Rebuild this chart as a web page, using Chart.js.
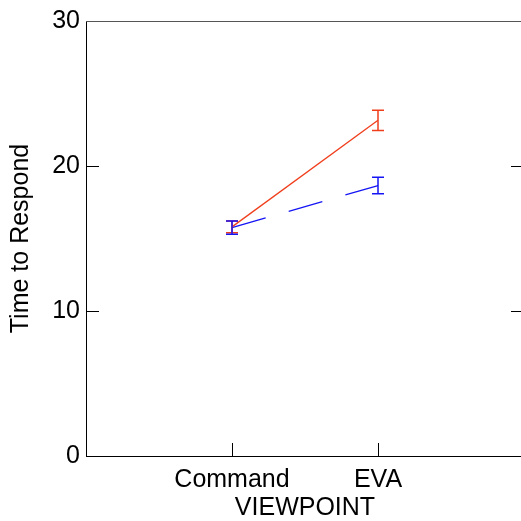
<!DOCTYPE html>
<html>
<head>
<meta charset="utf-8">
<script src="https://cdn.jsdelivr.net/npm/chart.js@4/dist/chart.umd.min.js"></script>
<style>
  html, body { margin: 0; padding: 0; overflow: hidden; background: #fff; }
  canvas { display: block; }
</style>
</head>
<body>
<canvas id="chart" width="526" height="521"></canvas>
<script>
// data
const categories = ['Command', 'EVA'];
const redMeans = [15.8, 23.15];
const redErr = [0.4, 0.7];
const blueMeans = [15.75, 18.65];
const blueErr = [0.45, 0.57];
const yTicks = [0, 10, 20, 30];

const RED = 'rgb(240, 62, 28)';
const BLUE = 'rgb(20, 20, 245)';
const FONT = "'Liberation Sans', Arial, Helvetica, sans-serif";

// error bars drawn with the chart's scales
const errorBars = {
    id: 'errorBars',
    afterDatasetsDraw(chart) {
        const ctx = chart.ctx;
        const xs = chart.scales.x, ys = chart.scales.y;
        const sets = [
            { means: redMeans, errs: redErr, color: RED },
            { means: blueMeans, errs: blueErr, color: BLUE }
        ];
        ctx.save();
        ctx.lineWidth = 1.5;
        sets.forEach(s => {
            ctx.strokeStyle = s.color;
            s.means.forEach((m, i) => {
                const x = xs.getPixelForValue(i);
                const top = ys.getPixelForValue(m + s.errs[i]);
                const bot = ys.getPixelForValue(m - s.errs[i]);
                ctx.beginPath();
                ctx.moveTo(x, top); ctx.lineTo(x, bot);
                ctx.moveTo(x - 6, top); ctx.lineTo(x + 6, top);
                ctx.moveTo(x - 6, bot); ctx.lineTo(x + 6, bot);
                ctx.stroke();
            });
        });
        ctx.restore();
    }
};

// box frame with inward ticks
const frame = {
    id: 'frame',
    afterDraw(chart) {
        const ctx = chart.ctx;
        const a = chart.chartArea;
        const xs = chart.scales.x, ys = chart.scales.y;
        ctx.save();
        ctx.lineWidth = 1;
        ctx.strokeStyle = '#000';
        ctx.beginPath();
        ctx.moveTo(a.left + 0.5, a.top); ctx.lineTo(a.left + 0.5, a.bottom);
        ctx.moveTo(a.left, a.bottom + 0.5); ctx.lineTo(a.right, a.bottom + 0.5);
        ctx.moveTo(a.right - 0.5, a.top); ctx.lineTo(a.right - 0.5, a.bottom);
        yTicks.forEach(v => {
            const y = Math.round(ys.getPixelForValue(v)) + 0.5;
            ctx.moveTo(a.left, y); ctx.lineTo(a.left + 13, y);
            ctx.moveTo(a.right, y); ctx.lineTo(a.right - 13, y);
        });
        categories.forEach((c, i) => {
            const x = Math.round(xs.getPixelForValue(i)) + 0.5;
            ctx.moveTo(x, a.bottom); ctx.lineTo(x, a.bottom - 13);
        });
        ctx.stroke();
        ctx.strokeStyle = '#555';
        ctx.beginPath();
        ctx.moveTo(a.left, a.top + 0.5); ctx.lineTo(a.right, a.top + 0.5);
        ctx.stroke();
        ctx.restore();
    }
};

new Chart(document.getElementById('chart'), {
    type: 'line',
    data: {
        datasets: [
            {
                label: 'red',
                data: redMeans.map((v, i) => ({ x: i, y: v })),
                borderColor: RED,
                borderWidth: 1.3,
                pointRadius: 0
            },
            {
                label: 'blue',
                data: blueMeans.map((v, i) => ({ x: i, y: v })),
                borderColor: BLUE,
                borderWidth: 1.3,
                borderDash: [35, 24],
                pointRadius: 0
            }
        ]
    },
    options: {
        responsive: false,
        animation: false,
        layout: { padding: { top: 19, right: 2, left: 0, bottom: 0 } },
        plugins: { legend: { display: false }, tooltip: { enabled: false } },
        scales: {
            x: {
                type: 'linear',
                min: -1,
                max: 2,
                grid: { display: false, drawTicks: false },
                border: { display: false },
                afterBuildTicks: scale => { scale.ticks = categories.map((c, i) => ({ value: i })); },
                afterFit: scale => { scale.height = 65; },
                ticks: {
                    callback: v => categories[v],
                    autoSkip: false,
                    maxRotation: 0,
                    color: '#000',
                    padding: 9,
                    font: { family: FONT, size: 25 }
                },
                title: {
                    display: true,
                    text: 'VIEWPOINT',
                    color: '#000',
                    padding: 0,
                    font: { family: FONT, size: 25, lineHeight: 1 }
                }
            },
            y: {
                min: 0,
                max: 30,
                grid: { display: false, drawTicks: false },
                border: { display: false },
                afterBuildTicks: scale => { scale.ticks = yTicks.map(v => ({ value: v })); },
                afterFit: scale => { scale.width = 86; },
                ticks: {
                    color: '#000',
                    padding: 6,
                    font: { family: FONT, size: 25 }
                },
                title: {
                    display: true,
                    text: 'Time to Respond',
                    color: '#000',
                    padding: { top: 9, bottom: 0 },
                    font: { family: FONT, size: 25, lineHeight: 1 }
                }
            }
        }
    },
    plugins: [errorBars, frame]
});
</script>
</body>
</html>
